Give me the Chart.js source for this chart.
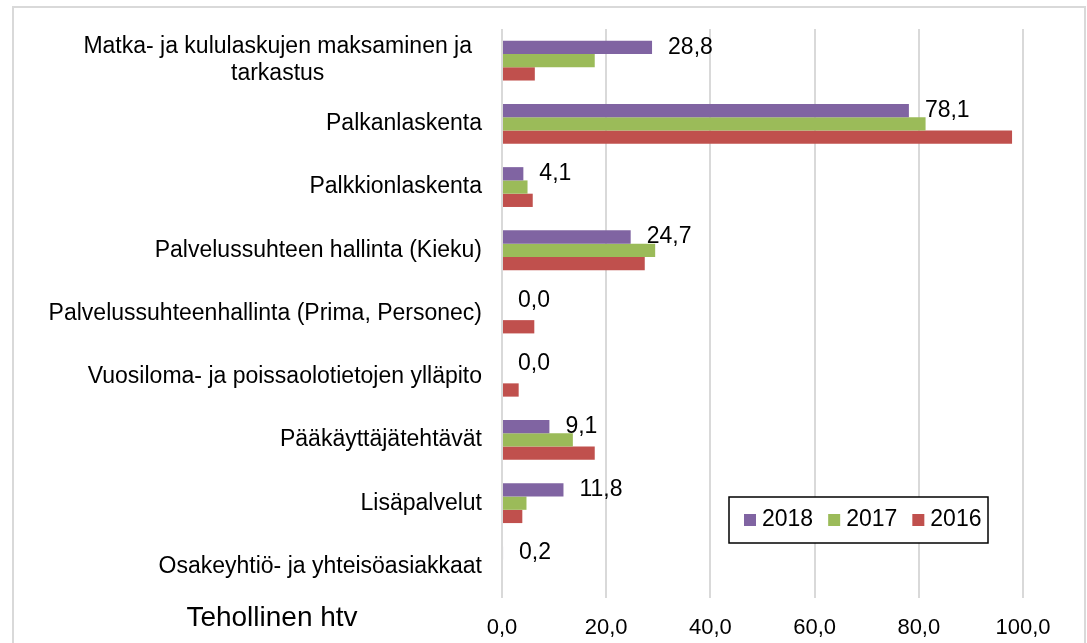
<!DOCTYPE html>
<html>
<head>
<meta charset="utf-8">
<script src="https://cdn.jsdelivr.net/npm/chart.js"></script>
<style>
  body { margin: 0; background: #ffffff; }
  canvas { display: block; }
</style>
</head>
<body>
<canvas id="myCanvas" width="1087" height="643"></canvas>
<script>
const categories = [
    ['Matka- ja kululaskujen maksaminen ja', 'tarkastus'],
    'Palkanlaskenta',
    'Palkkionlaskenta',
    'Palvelussuhteen hallinta (Kieku)',
    'Palvelussuhteenhallinta (Prima, Personec)',
    'Vuosiloma- ja poissaolotietojen ylläpito',
    'Pääkäyttäjätehtävät',
    'Lisäpalvelut',
    'Osakeyhtiö- ja yhteisöasiakkaat'
];
const values2018 = [28.8, 78.1, 4.1, 24.7, 0.0, 0.0, 9.1, 11.8, 0.2];
const values2017 = [17.8, 81.3, 4.9, 29.4, null, null, 13.6, 4.7, null];
const values2016 = [6.3, 97.9, 5.9, 27.4, 6.2, 3.2, 17.8, 3.9, null];
const seriesNames = ['2018', '2017', '2016'];
const seriesColors = ['#8064A2', '#9BBB59', '#C0504D'];
const xTicks = [0, 20, 40, 60, 80, 100];
const axisTitle = 'Tehollinen htv';

const fontFamily = '"Liberation Sans", Arial, sans-serif';
const gridColor = '#D9D9D9';

function fmt(v) {
    return v.toFixed(1).replace('.', ',');
}

const canvas = document.getElementById('myCanvas');
const context = canvas.getContext('2d');

// outer frame
const framePlugin = {
    id: 'frame',
    beforeDraw(chart) {
        const ctx = chart.ctx;
        ctx.save();
        ctx.fillStyle = '#ffffff';
        ctx.fillRect(0, 0, chart.width, chart.height);
        ctx.strokeStyle = gridColor;
        ctx.lineWidth = 2;
        ctx.strokeRect(13, 7, 1072, 700);
        ctx.restore();
    }
};

// category labels: single lines right aligned, wrapped label centred like Excel
const categoryLabelPlugin = {
    id: 'categoryLabels',
    afterDraw(chart) {
        const ctx = chart.ctx;
        const yScale = chart.scales.y;
        const right = chart.chartArea.left - 20;
        ctx.save();
        ctx.font = '23px ' + fontFamily;
        ctx.fillStyle = '#000000';
        ctx.textBaseline = 'middle';
        categories.forEach(function(label, i) {
            const y = yScale.getPixelForTick(i);
            if (Array.isArray(label)) {
                const widths = label.map(l => ctx.measureText(l).width);
                const maxW = Math.max(...widths);
                const lineH = 27;
                ctx.textAlign = 'center';
                label.forEach(function(line, j) {
                    const ly = y + (j - (label.length - 1) / 2) * lineH;
                    ctx.fillText(line, right - 10 - maxW / 2, ly);
                });
            } else {
                ctx.textAlign = 'right';
                ctx.fillText(label, right, y);
            }
        });
        ctx.restore();
    }
};

// value labels for 2018 series only
const dataLabelPlugin = {
    id: 'dataLabels',
    afterDatasetsDraw(chart) {
        const ctx = chart.ctx;
        const meta = chart.getDatasetMeta(0);
        ctx.save();
        ctx.font = '23px ' + fontFamily;
        ctx.fillStyle = '#000000';
        ctx.textAlign = 'left';
        ctx.textBaseline = 'middle';
        meta.data.forEach(function(bar, i) {
            const v = values2018[i];
            if (v === null) return;
            ctx.fillText(fmt(v), bar.x + 16, bar.y);
        });
        ctx.restore();
    }
};

// axis title and boxed legend inside the plot
const extrasPlugin = {
    id: 'extras',
    afterDraw(chart) {
        const ctx = chart.ctx;
        ctx.save();
        ctx.font = '28px ' + fontFamily;
        ctx.fillStyle = '#000000';
        ctx.textAlign = 'center';
        ctx.textBaseline = 'middle';
        ctx.fillText(axisTitle, 272, 618);

        ctx.strokeStyle = '#000000';
        ctx.lineWidth = 1.5;
        ctx.fillStyle = '#ffffff';
        ctx.fillRect(729, 497, 259, 46);
        ctx.strokeRect(729, 497, 259, 46);

        ctx.font = '23px ' + fontFamily;
        ctx.textAlign = 'left';
        let x = 744;
        const cy = 520;
        chart.data.datasets.forEach(function(ds) {
            ctx.fillStyle = ds.backgroundColor;
            ctx.fillRect(x, cy - 6, 12, 12);
            ctx.fillStyle = '#000000';
            ctx.fillText(ds.label, x + 18, cy);
            x += 18 + ctx.measureText(ds.label).width + 15;
        });
        ctx.restore();
    }
};

const myChart = new Chart(context, {
    type: 'bar',
    data: {
        labels: categories,
        datasets: [
            { label: seriesNames[0], data: values2018, backgroundColor: seriesColors[0] },
            { label: seriesNames[1], data: values2017, backgroundColor: seriesColors[1] },
            { label: seriesNames[2], data: values2016, backgroundColor: seriesColors[2] }
        ]
    },
    options: {
        indexAxis: 'y',
        responsive: false,
        animation: false,
        devicePixelRatio: 1,
        datasets: {
            bar: {
                categoryPercentage: 0.63,
                barPercentage: 1.0,
                borderWidth: 0
            }
        },
        layout: {
            padding: { top: 29, right: 64, bottom: 0, left: 0 }
        },
        plugins: {
            legend: { display: false },
            tooltip: { enabled: false }
        },
        scales: {
            x: {
                min: xTicks[0],
                max: xTicks[xTicks.length - 1],
                afterBuildTicks: function(scale) {
                    scale.ticks = xTicks.map(v => ({ value: v }));
                },
                afterFit: function(scale) {
                    scale.height = 45;
                },
                ticks: {
                    color: '#000000',
                    font: { family: fontFamily, size: 22 },
                    padding: 17,
                    callback: function(value) { return fmt(value); }
                },
                grid: {
                    color: gridColor,
                    lineWidth: 2,
                    drawTicks: false
                },
                border: { display: false }
            },
            y: {
                afterFit: function(scale) {
                    scale.width = 502;
                },
                ticks: { display: false },
                grid: { display: false },
                border: { display: false }
            }
        }
    },
    plugins: [framePlugin, categoryLabelPlugin, dataLabelPlugin, extrasPlugin]
});
</script>
</body>
</html>
